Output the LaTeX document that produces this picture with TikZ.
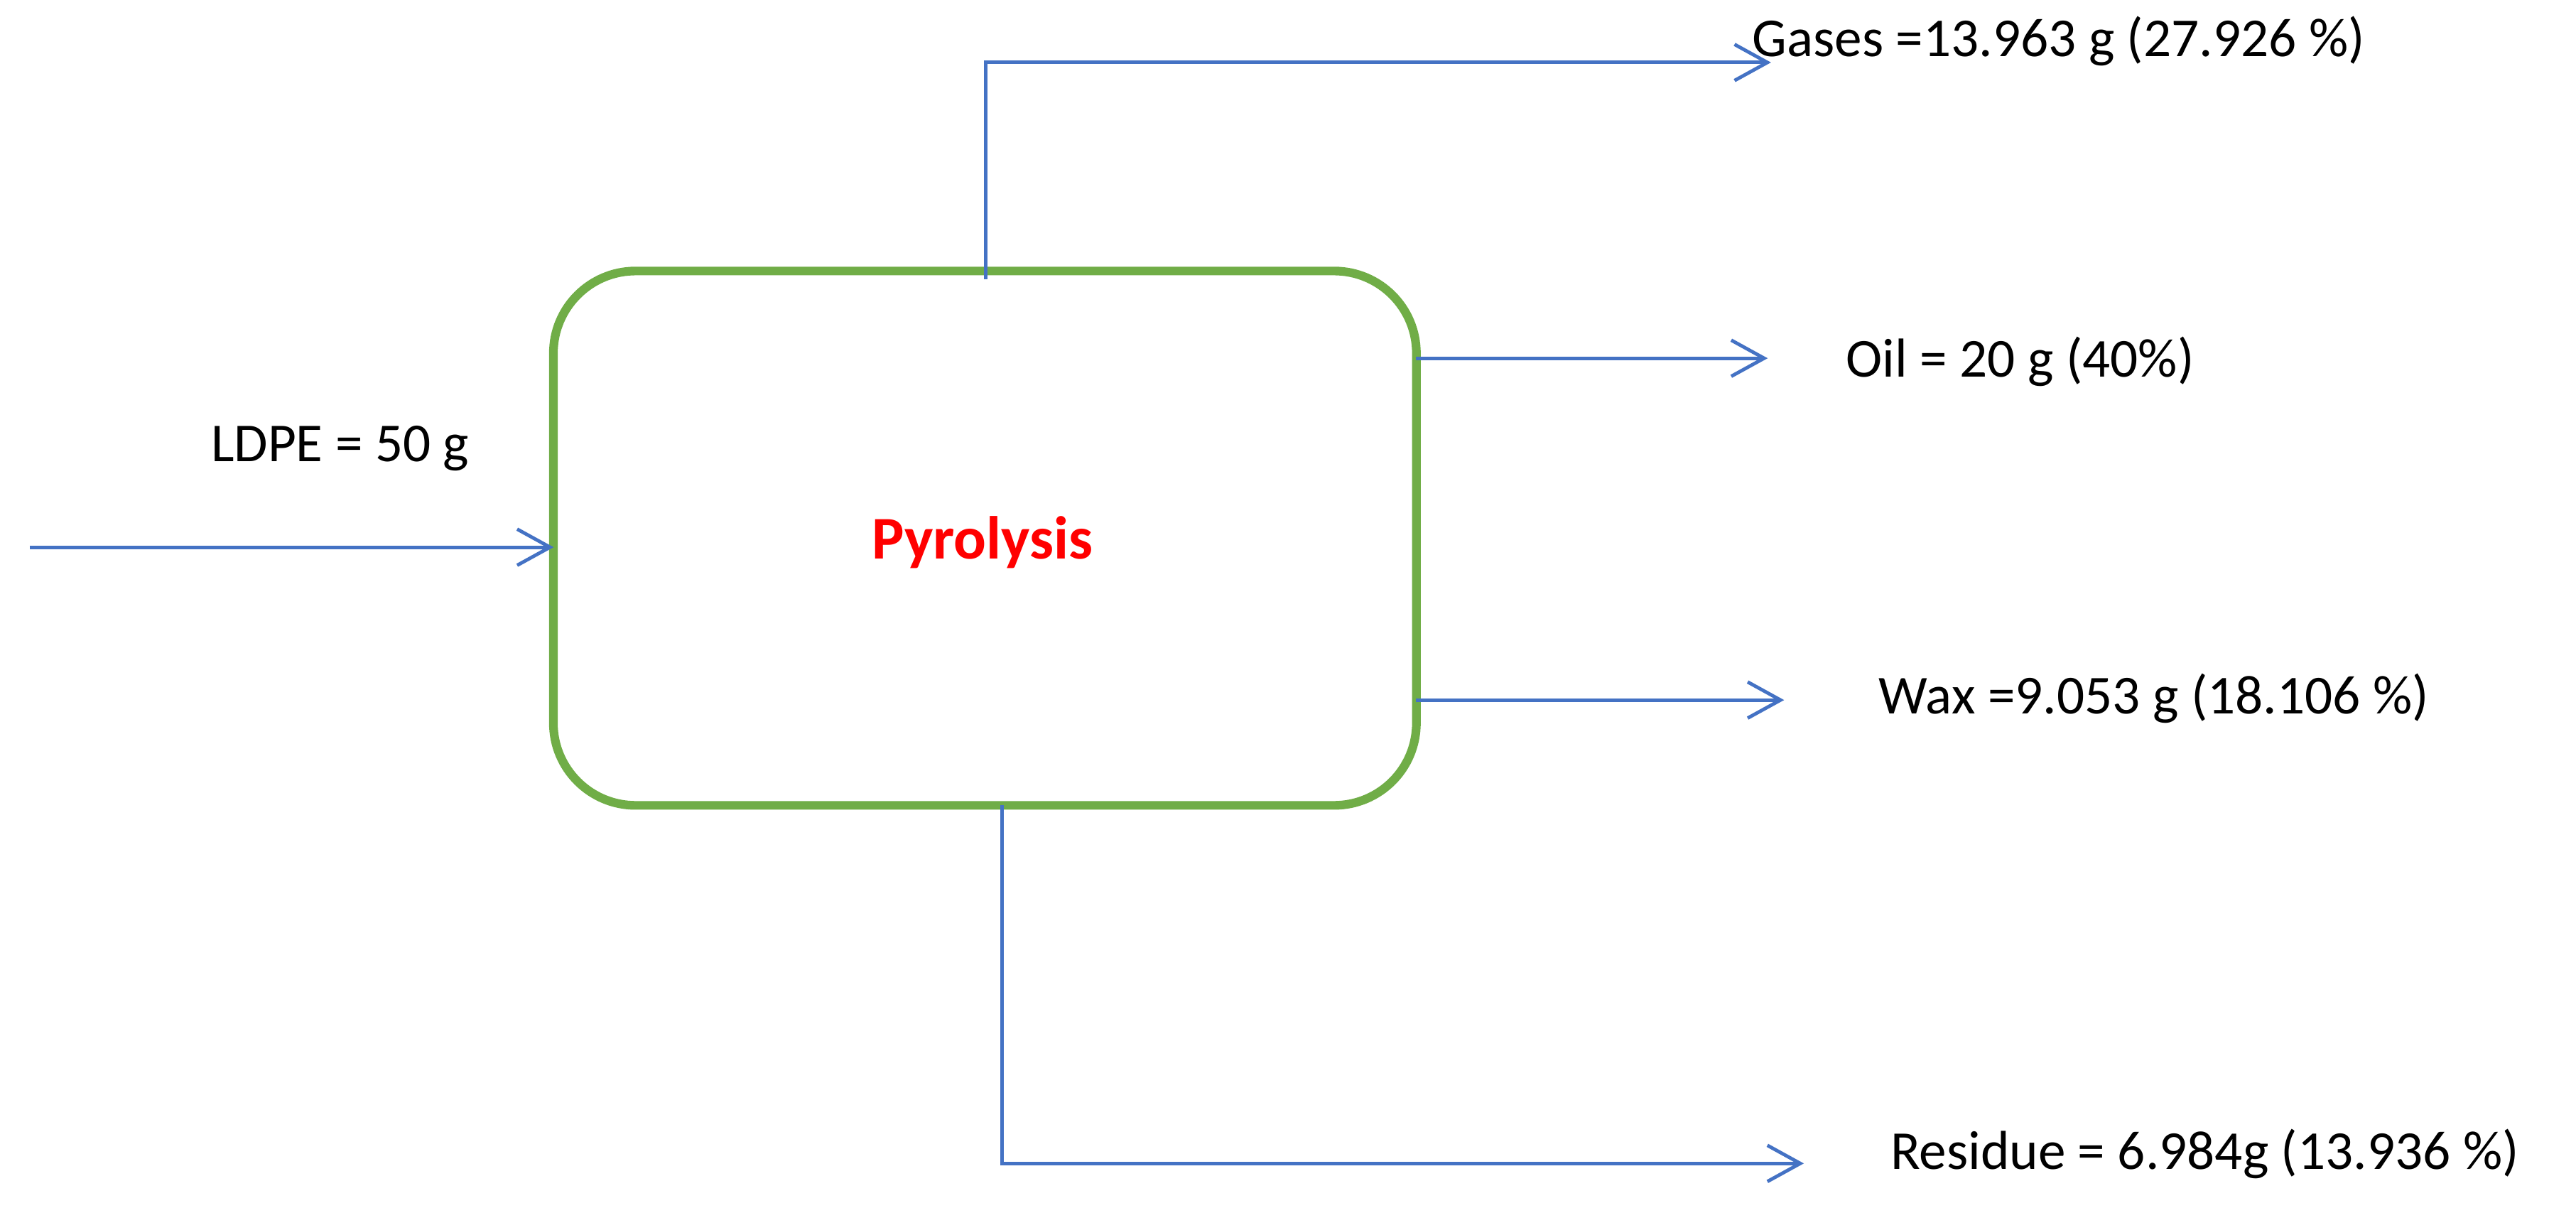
\documentclass[tikz,border=0pt]{standalone}
\usepackage{fontspec}
\setmainfont{Carlito}
\usetikzlibrary{arrows.meta}
\definecolor{boxgreen}{RGB}{112,173,71}
\definecolor{lineblue}{RGB}{68,114,196}
\begin{document}
\begin{tikzpicture}[x=0.01cm,y=-0.01cm,
  flow/.style={draw=lineblue,line width=0.6pt,-{Straight Barb[length=0.2cm,width=0.22cm]}},
  lab/.style={font=\fontsize{9.5}{11}\selectfont,inner sep=0pt}]
\useasboundingbox (0,0) rectangle (1568,735);
\node[draw=boxgreen,line width=1.5pt,rounded corners=0.5cm,minimum width=5.25cm,minimum height=3.25cm] (box) at (599.5,327.5) {};
\node[text=red,font=\fontsize{10.5}{12}\selectfont\bfseries] (t) at (598,330) {Pyrolysis};
\coordinate (in) at (18,333);
\coordinate (inEnd) at (337,333);
\draw[flow] (in) -- (inEnd);
\node[lab] (ldpe) at (207,273) {LDPE = 50 g};
\coordinate (gs) at (600,170);
\coordinate (ge) at (1078,38);
\draw[flow] (gs) |- (ge);
\node[lab,anchor=west] (gases) at (1066,25) {Gases =13.963 g (27.926 \%)};
\coordinate (os) at (862,218);
\coordinate (oe) at (1076,218);
\draw[flow] (os) -- (oe);
\node[lab,anchor=west] (oil) at (1123,220) {Oil = 20 g (40\%)};
\coordinate (ws) at (862,426);
\coordinate (we) at (1086,426);
\draw[flow] (ws) -- (we);
\node[lab,anchor=west] (wax) at (1143,425) {Wax =9.053 g (18.106 \%)};
\coordinate (rs) at (610,490);
\coordinate (re) at (1098,708);
\draw[flow] (rs) |- (re);
\node[lab,anchor=west] (res) at (1150,702) {Residue = 6.984g (13.936 \%)};
\end{tikzpicture}
\end{document}
